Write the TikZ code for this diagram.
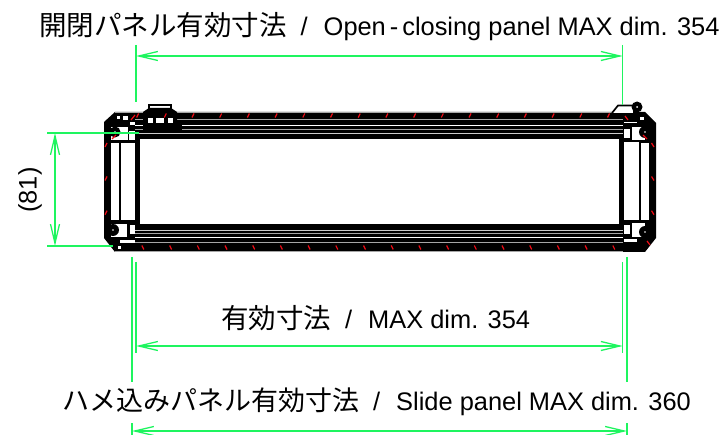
\documentclass[tikz,border=0pt]{standalone}
\usepackage{fontspec}
\setmainfont{Liberation Sans}
\newfontfamily\cjk{Noto Sans CJK JP}
\usetikzlibrary{arrows.meta}
\definecolor{dimgreen}{RGB}{30,245,95}
\definecolor{tickred}{RGB}{240,10,20}
\newcommand{\jpsep}{\hspace{14pt}/\hspace{16pt}}

\begin{document}
\begin{tikzpicture}[x=1pt, y=-1pt]
		\tikzstyle{dimline}=[draw=dimgreen, line width=1.3pt, <->, >={Straight Barb[length=19pt, width=9pt]}]
		\tikzstyle{extline}=[draw=dimgreen, line width=1.3pt]
		\tikzstyle{profile}=[draw=black, line width=1.7pt]
		\tikzstyle{thinwhite}=[draw=white, line width=1pt]
		\tikzstyle{thingrey}=[draw=gray!70, line width=1pt]
		\tikzstyle{redtick}=[draw=tickred, line width=1.2pt]
		\tikzstyle{dimtext}=[inner sep=0pt, font=\fontsize{25.4}{27}\selectfont]

		\useasboundingbox (0,0) rectangle (722,435);

		% body outline
		\fill[black] (115,112) -- (645,112) -- (656,123) -- (656,238) -- (645,252) -- (115,252) -- (104,238) -- (104,122) -- cycle;
		\fill[white] (140,139) rectangle (619,224);

		% top rail
		\draw[thingrey] (115,112.5) -- (623,112.5);
		\draw[thingrey] (135,119.5) -- (623,119.5);
		\draw[thinwhite] (135,125.5) -- (623,125.5);
		\draw[thingrey] (135,129.5) -- (623,129.5);
		\draw[draw=gray!40, line width=.7pt] (135,133.5) -- (623,133.5);

		% bottom rail
		\draw[draw=gray!40, line width=.7pt] (135,230) -- (623,230);
		\draw[thingrey] (135,234) -- (623,234);
		\draw[thinwhite] (135,238) -- (623,238);
		\draw[thingrey] (135,242.5) -- (623,242.5);
		\draw[thingrey] (115,251.5) -- (623,251.5);

		% left end
		\fill[white] (110.7,143.5) rectangle (119.3,220.5);
		\fill[white] (121.3,143.5) rectangle (135,220.5);
		\fill[white] (111,127) rectangle (127.5,140);
		\fill[white] (129,131) rectangle (135,140);
		\fill[white] (111,224) rectangle (127,237);
		\fill[white] (129.5,225) rectangle (135,234);
		\fill[white] (117,116) rectangle (120,119);
		\fill[white] (123,116) rectangle (128,120);
		\fill[white] (130,122) rectangle (135,125);
		\fill[white] (120,240) rectangle (135,243);
		\fill[white] (118,246) rectangle (121,249);
		\fill[black] (115,132) circle (5.5);
		\fill[black] (113,230) circle (6);
		\fill[white] (115,132) circle (.8);
		\fill[white] (113,230) circle (.8);
		\fill[black] (135,144) -- (140,147) -- (140,217) -- (135,220) -- cycle;
		\fill[white] (140,139) rectangle (143,224);

		% latch
		\draw[profile, fill=white] (149,110) -- (149,105) -- (171,105) -- (171,110);
		\fill[black] (143,112) -- (149,108) -- (171,108) -- (177,112) -- (177,131) -- (143,131) -- cycle;
		\fill[black] (177,124) rectangle (182,131);
		\fill[white] (147.5,118) rectangle (153,123);
		\fill[white] (156,118) rectangle (164,123);
		\fill[white] (167.5,118) rectangle (173,123);

		% right end
		\fill[white] (624,142) rectangle (639.3,220.5);
		\fill[white] (640.7,143) rectangle (649.3,220.5);
		\fill[black] (619,144) rectangle (624,219.5);
		\fill[white] (624,129) rectangle (630,138);
		\fill[white] (632,127) rectangle (645,140);
		\fill[white] (624,225) rectangle (630,234);
		\fill[white] (632,223) rectangle (645,237);
		\fill[white] (624,239) rectangle (637,242);
		\fill[white] (624,122) rectangle (637,123.5);
		\fill[white] (640,117) rectangle (644,120);
		\fill[black] (645,132) circle (6);
		\fill[black] (645,232) circle (6);
		\fill[white] (645,132) circle (.8);
		\fill[white] (645,232) circle (.8);
		\draw[profile, fill=white] (612,113) -- (618,105.5) -- (634,105.5) -- (634,113);
		\fill[black] (637,107) circle (5.5);
		\fill[white] (637,107) circle (1);

		% red ticks
		\foreach \k in {-3,...,14} {
			\draw[redtick] ({220.7+27.7*\k-1},117.5) -- ({220.7+27.7*\k+1},113.5);
			\draw[redtick] ({226+27.7*\k-1},245.5) -- ({226+27.7*\k+1},249.5);
		}
		\foreach \y in {145,178.5,212.7} {
			\draw[redtick] (105,\y+2) -- (107,\y-2);
			\draw[redtick] (651.5,\y-2) -- (654,\y+2);
		}
		\draw[redtick] (131,120) -- (135,115);
		\draw[redtick] (112,139) -- (116,135);
		\draw[redtick] (625,116) -- (628,120);
		\draw[redtick] (643,135) -- (647,139);
		\draw[redtick] (647,241) -- (650,245);

		% dimension points
		\coordinate (openTopL) at (136,45);
		\coordinate (openBotL) at (136,102);
		\coordinate (openTopR) at (622.7,45);
		\coordinate (openBotR) at (622.7,105);
		\coordinate (openL) at (136,56);
		\coordinate (openR) at (622.7,56);
		\coordinate (heightA) at (47,133);
		\coordinate (heightB) at (139,133);
		\coordinate (heightC) at (47,246);
		\coordinate (heightD) at (113,246);
		\coordinate (heightT) at (55,133);
		\coordinate (heightU) at (55,246);
		\coordinate (maxTopL) at (136,262);
		\coordinate (maxBotL) at (136,353);
		\coordinate (maxTopR) at (622.7,262);
		\coordinate (maxBotR) at (622.7,353);
		\coordinate (maxL) at (136,346);
		\coordinate (maxR) at (622.7,346);
		\coordinate (slideTopL) at (132,257);
		\coordinate (slideBotL) at (132,382);
		\coordinate (slideTopR) at (627,257);
		\coordinate (slideBotR) at (627,382);
		\coordinate (slideLowL) at (132,423);
		\coordinate (slideEndL) at (132,435);
		\coordinate (slideLowR) at (627,423);
		\coordinate (slideEndR) at (627,435);
		\coordinate (slideL) at (132,431);
		\coordinate (slideR) at (627,431);

		% dimension lines
		\draw[extline] (openTopL) -- (openBotL);
		\draw[extline] (openTopR) -- (openBotR);
		\draw[dimline] (openL) -- (openR);
		\draw[extline] (heightA) -- (heightB);
		\draw[extline] (heightC) -- (heightD);
		\draw[dimline] (heightT) -- (heightU);
		\draw[extline] (maxTopL) -- (maxBotL);
		\draw[extline] (maxTopR) -- (maxBotR);
		\draw[dimline] (maxL) -- (maxR);
		\draw[extline] (slideTopL) -- (slideBotL);
		\draw[extline] (slideTopR) -- (slideBotR);
		\draw[extline] (slideLowL) -- (slideEndL);
		\draw[extline] (slideLowR) -- (slideEndR);
		\draw[dimline] (slideL) -- (slideR);

		% labels
		\node[dimtext, anchor=west] (openlabel) at (39,27) {{\cjk\fontsize{27.5}{29}\selectfont 開閉パネル有効寸法}\jpsep Open\hspace{4pt}-\hspace{4pt}closing panel MAX dim. 354};
		\node[dimtext, anchor=west] (maxlabel) at (221,318) {{\cjk\fontsize{27.5}{29}\selectfont 有効寸法}\jpsep MAX dim. 354};
		\node[dimtext, anchor=west] (slidelabel) at (62,402) {{\cjk\fontsize{27}{29}\selectfont ハメ込みパネル有効寸法}\jpsep Slide panel MAX dim. 360};
		\node[dimtext, rotate=90] (heightlabel) at (30,190) {(81)};
\end{tikzpicture}
\end{document}
